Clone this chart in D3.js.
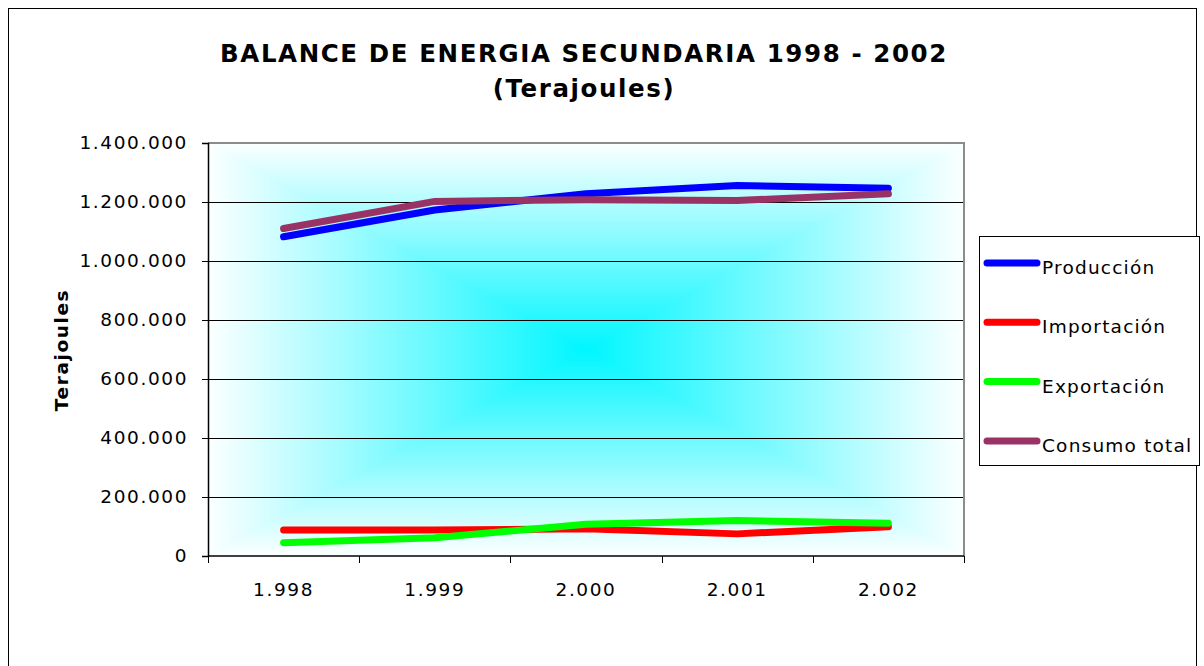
<!DOCTYPE html>
<html>
<head>
<meta charset="utf-8">
<script src="https://cdn.jsdelivr.net/npm/d3@7"></script>
<style>
  html, body { margin: 0; padding: 0; background: #fff; }
  svg { display: block; }
  text { font-family: "DejaVu Sans", Verdana, sans-serif; fill: #000; }
</style>
</head>
<body>
<svg id="chart" width="1204" height="666"></svg>
<script>
// Balance de energía secundaria, 1998-2002 (Terajoules)
const years = ["1.998", "1.999", "2.000", "2.001", "2.002"];
const produccion  = [1082000, 1173000, 1228000, 1256000, 1247000];
const importacion = [88000, 88000, 92000, 75000, 99000];
const exportacion = [45000, 62000, 108000, 120000, 111000];
const consumo     = [1110000, 1202000, 1208000, 1205000, 1228000];
const seriesNames  = ["Producción", "Importación", "Exportación", "Consumo total"];
const seriesColors = ["#0000ff", "#ff0000", "#00ff00", "#993366"];
const yTicks = [0, 200000, 400000, 600000, 800000, 1000000, 1200000, 1400000];

const series = [produccion, importacion, exportacion, consumo].map((v, i) => ({
  name: seriesNames[i], color: seriesColors[i], values: v
}));

const plot = { left: 208, right: 964, top: 143, bottom: 556 };

const svg = d3.select("#chart");

// outer chart frame
svg.append("rect")
  .attr("x", 8.5).attr("y", 8.5)
  .attr("width", 1188).attr("height", 700)
  .attr("fill", "#fff").attr("stroke", "#000").attr("stroke-width", 1);

const x = d3.scaleBand().domain(years).range([plot.left, plot.right]).padding(0);
const y = d3.scaleLinear().domain([0, 1400000]).range([plot.bottom, plot.top]);

// plot background: rectangular "from centre" gradient, cyan fading to white
(function () {
  const w = plot.right - plot.left, h = plot.bottom - plot.top;
  const cv = document.createElement("canvas");
  cv.width = w; cv.height = h;
  const ctx = cv.getContext("2d");
  const img = ctx.createImageData(w, h);
  const c0 = [0, 246, 255], c1 = [252, 255, 255];
  for (let j = 0; j < h; j++) {
    for (let i = 0; i < w; i++) {
      const t = Math.min(1, Math.max(Math.abs(i + 0.5 - w / 2) / (w / 2), Math.abs(j + 0.5 - h / 2) / (h / 2)));
      const k = (j * w + i) * 4;
      img.data[k]     = c0[0] + (c1[0] - c0[0]) * t;
      img.data[k + 1] = c0[1] + (c1[1] - c0[1]) * t;
      img.data[k + 2] = c0[2] + (c1[2] - c0[2]) * t;
      img.data[k + 3] = 255;
    }
  }
  ctx.putImageData(img, 0, 0);
  svg.append("image")
    .attr("x", plot.left).attr("y", plot.top)
    .attr("width", w).attr("height", h)
    .attr("preserveAspectRatio", "none")
    .attr("href", cv.toDataURL());
})();

// horizontal gridlines
svg.append("g")
  .selectAll("line")
  .data(yTicks.filter(d => d > 0 && d < 1400000))
  .join("line")
  .attr("x1", plot.left).attr("x2", plot.right)
  .attr("y1", d => Math.round(y(d)) + 0.5).attr("y2", d => Math.round(y(d)) + 0.5)
  .attr("stroke", "#000").attr("stroke-width", 1);

// plot border (top and right in grey)
svg.append("path")
  .attr("d", `M${plot.left},${plot.top} H${plot.right} V${plot.bottom}`)
  .attr("fill", "none").attr("stroke", "#8c8c8c").attr("stroke-width", 2);

// y axis
const yAxis = d3.axisLeft(y)
  .tickValues(yTicks)
  .tickSize(6)
  .tickPadding(14)
  .tickFormat(d => d3.format(",")(d).replace(/,/g, "."));
const gy = svg.append("g").attr("transform", `translate(${plot.left},0)`).call(yAxis);
gy.select(".domain").attr("stroke", "#000").attr("stroke-width", 1.5);
gy.selectAll(".tick line").attr("stroke", "#000");
gy.selectAll("text")
  .attr("font-family", "DejaVu Sans, sans-serif")
  .attr("font-size", 18.5).attr("letter-spacing", 1.6).attr("fill", "#000");

// x axis: ticks at category boundaries, labels centred in each band
const gx = svg.append("g").attr("transform", `translate(0,${plot.bottom})`);
gx.append("line")
  .attr("x1", plot.left).attr("x2", plot.right)
  .attr("y1", 0).attr("y2", 0)
  .attr("stroke", "#000").attr("stroke-width", 1.5);
const edges = years.map(d => x(d)).concat([x(years[years.length - 1]) + x.bandwidth()]);
gx.selectAll("line.tk")
  .data(edges)
  .join("line").attr("class", "tk")
  .attr("x1", d => Math.round(d) + 0.5).attr("x2", d => Math.round(d) + 0.5)
  .attr("y1", 0).attr("y2", 7)
  .attr("stroke", "#000");
gx.selectAll("text")
  .data(years)
  .join("text")
  .attr("x", d => x(d) + x.bandwidth() / 2)
  .attr("y", 40)
  .attr("text-anchor", "middle")
  .attr("font-size", 18.5).attr("letter-spacing", 1.6)
  .text(d => d);

// series lines
const line = d3.line()
  .x((d, i) => x(years[i]) + x.bandwidth() / 2)
  .y(d => y(d));
svg.append("g")
  .selectAll("path")
  .data(series)
  .join("path")
  .attr("d", d => line(d.values))
  .attr("fill", "none")
  .attr("stroke", d => d.color)
  .attr("stroke-width", 7)
  .attr("stroke-linecap", "round")
  .attr("stroke-linejoin", "round");

// titles
svg.append("text")
  .attr("x", 584).attr("y", 62)
  .attr("text-anchor", "middle")
  .attr("font-size", 24.5).attr("font-weight", "bold").attr("letter-spacing", 1.6)
  .text("BALANCE DE ENERGIA SECUNDARIA 1998 - 2002");
svg.append("text")
  .attr("x", 584).attr("y", 97)
  .attr("text-anchor", "middle")
  .attr("font-size", 24.5).attr("font-weight", "bold").attr("letter-spacing", 1.6)
  .text("(Terajoules)");

svg.append("text")
  .attr("transform", "translate(68,350) rotate(-90)")
  .attr("text-anchor", "middle")
  .attr("font-size", 18.5).attr("font-weight", "bold").attr("letter-spacing", 1.6)
  .text("Terajoules");

// legend
const legend = svg.append("g");
legend.append("rect")
  .attr("x", 979.5).attr("y", 236.5)
  .attr("width", 220).attr("height", 229)
  .attr("fill", "#fff").attr("stroke", "#000");
const li = legend.selectAll("g.item")
  .data(series)
  .join("g").attr("class", "item")
  .attr("transform", (d, i) => `translate(0,${263 + i * 59.3})`);
li.append("line")
  .attr("x1", 987).attr("x2", 1037)
  .attr("y1", 0).attr("y2", 0)
  .attr("stroke", d => d.color).attr("stroke-width", 7)
  .attr("stroke-linecap", "round");
li.append("text")
  .attr("x", 1042).attr("y", 11)
  .attr("font-size", 18.5).attr("letter-spacing", 1.2)
  .text(d => d.name);
</script>
</body>
</html>
